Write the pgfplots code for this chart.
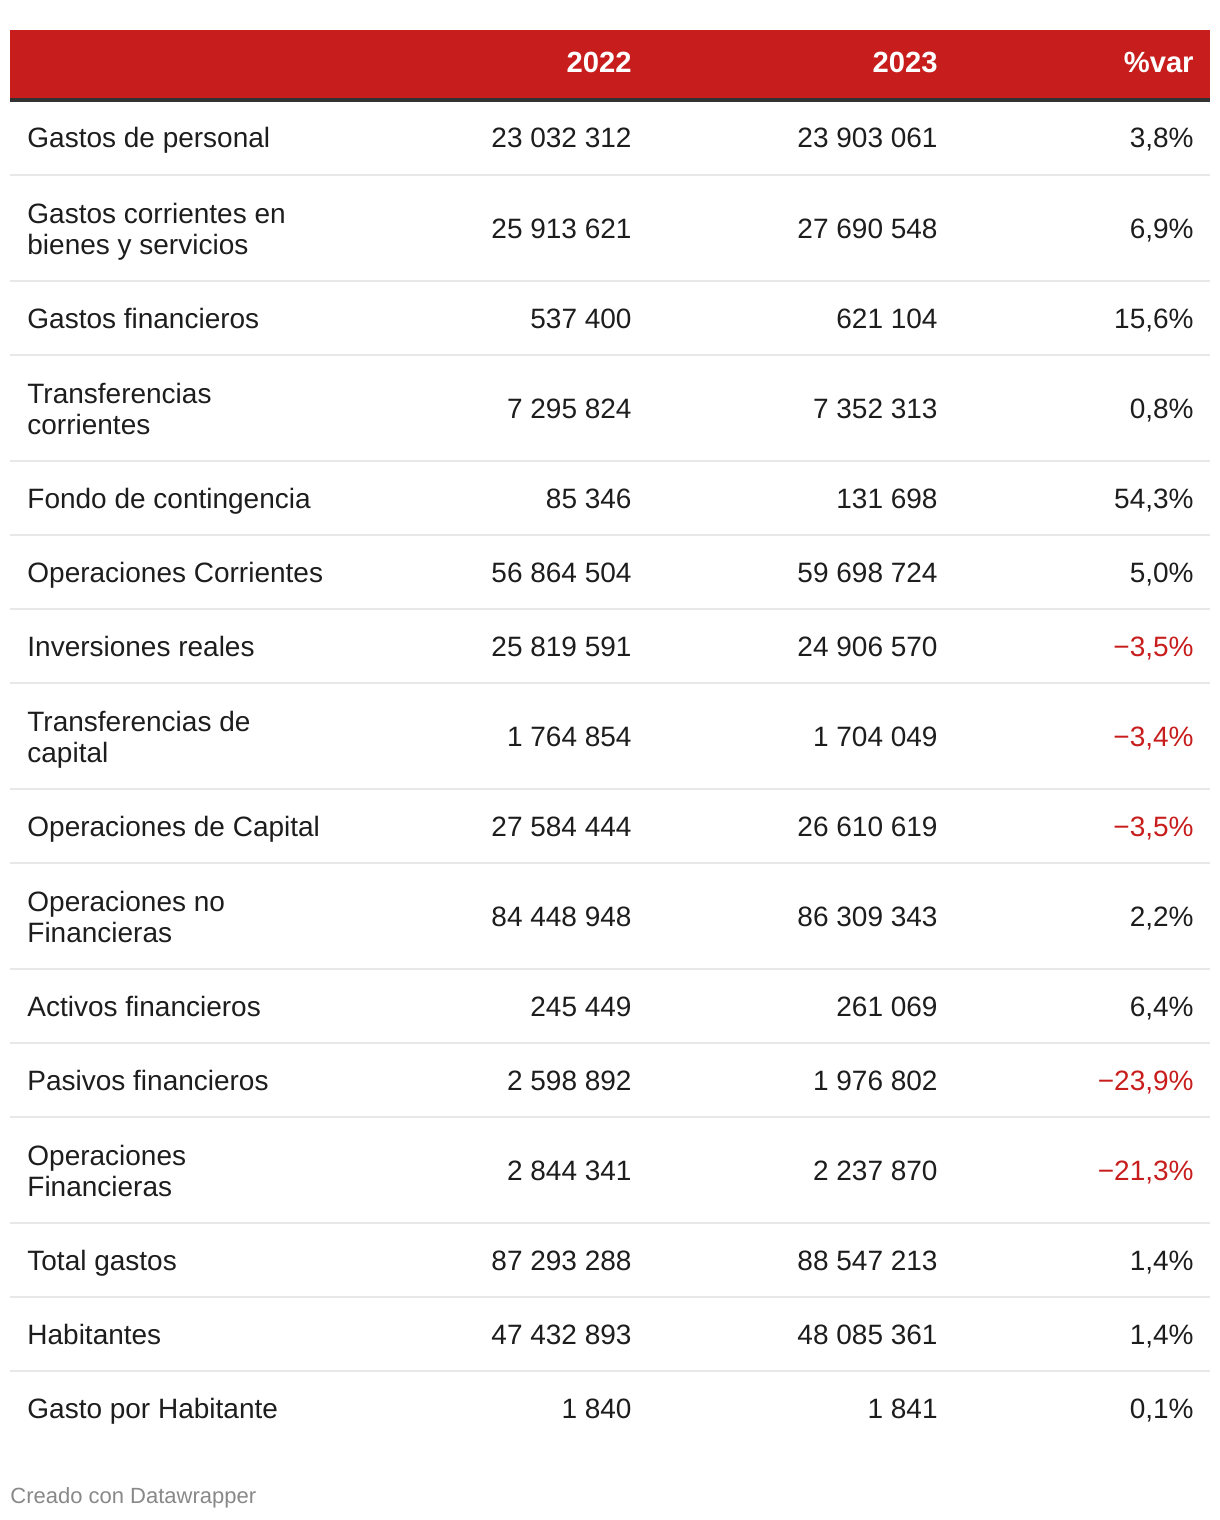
\documentclass[border=0pt]{standalone}
\usepackage{pgfplots}
\pgfplotsset{compat=1.18}
\usepackage{fontspec}
\setmainfont{Liberation Sans}
\definecolor{dwred}{HTML}{C71E1D}
\definecolor{dwtext}{HTML}{1D1D1D}
\definecolor{dwline}{HTML}{E8E8E8}
\definecolor{dwdark}{HTML}{333333}
\definecolor{dwgrey}{HTML}{888888}
\begin{document}
\begin{tikzpicture}
\begin{axis}[
  width=610pt, height=760pt, scale only axis,
  xmin=0, xmax=1220, ymin=0, ymax=1520, y dir=reverse,
  axis lines=none, clip=false,
  unbounded coords=jump,
  point meta=explicit symbolic,
  cellR/.style={draw=none, mark=none, nodes near coords,
    every node near coord/.append style={anchor=base east, inner sep=0pt, text=dwtext,
      font=\fontsize{14}{16}\selectfont}},
  cellL/.style={draw=none, mark=none, nodes near coords,
    every node near coord/.append style={anchor=base west, inner sep=0pt, text=dwtext,
      font=\fontsize{14}{16}\selectfont}},
]
% bounding box
\addplot[draw=none] coordinates {(0,0) (1220,1520)};
% header band
\addplot[fill=dwred, draw=none] coordinates {(10,30) (1210,30) (1210,98) (10,98)} -- cycle;
\addplot[dwdark, line width=2pt] coordinates {(10,100) (1210,100)};
% separators
\addplot[dwline, line width=1pt] coordinates {
 (10,175) (1210,175) (nan,nan)
 (10,281) (1210,281) (nan,nan)
 (10,355) (1210,355) (nan,nan)
 (10,461) (1210,461) (nan,nan)
 (10,535) (1210,535) (nan,nan)
 (10,609) (1210,609) (nan,nan)
 (10,683) (1210,683) (nan,nan)
 (10,789) (1210,789) (nan,nan)
 (10,863) (1210,863) (nan,nan)
 (10,969) (1210,969) (nan,nan)
 (10,1043) (1210,1043) (nan,nan)
 (10,1117) (1210,1117) (nan,nan)
 (10,1223) (1210,1223) (nan,nan)
 (10,1297) (1210,1297) (nan,nan)
 (10,1371) (1210,1371)
};
% header text
\addplot[draw=none, mark=none, nodes near coords,
  every node near coord/.append style={anchor=base east, inner sep=0pt, text=white,
    font=\fontsize{14.6}{16}\selectfont\bfseries}] coordinates {
 (632,73) [2022]
 (938,73) [2023]
 (1194,73) [\%var]
};
% labels
\addplot[cellL] coordinates {
 (27,148) [Gastos de personal]
 (27,223) [Gastos corrientes en]
 (27,254) [bienes y servicios]
 (27,328) [Gastos financieros]
 (27,403) [Transferencias]
 (27,434) [corrientes]
 (27,508) [Fondo de contingencia]
 (27,582) [Operaciones Corrientes]
 (27,656) [Inversiones reales]
 (27,731) [Transferencias de]
 (27,762) [capital]
 (27,836) [Operaciones de Capital]
 (27,911) [Operaciones no]
 (27,942) [Financieras]
 (27,1016) [Activos financieros]
 (27,1090) [Pasivos financieros]
 (27,1165) [Operaciones]
 (27,1196) [Financieras]
 (27,1270) [Total gastos]
 (27,1344) [Habitantes]
 (27,1418) [Gasto por Habitante]
};
% 2022
\addplot[cellR] coordinates {
 (632,148) [23 032 312]
 (632,238) [25 913 621]
 (632,328) [537 400]
 (632,418) [7 295 824]
 (632,508) [85 346]
 (632,582) [56 864 504]
 (632,656) [25 819 591]
 (632,746) [1 764 854]
 (632,836) [27 584 444]
 (632,926) [84 448 948]
 (632,1016) [245 449]
 (632,1090) [2 598 892]
 (632,1180) [2 844 341]
 (632,1270) [87 293 288]
 (632,1344) [47 432 893]
 (632,1418) [1 840]
};
% 2023
\addplot[cellR] coordinates {
 (938,148) [23 903 061]
 (938,238) [27 690 548]
 (938,328) [621 104]
 (938,418) [7 352 313]
 (938,508) [131 698]
 (938,582) [59 698 724]
 (938,656) [24 906 570]
 (938,746) [1 704 049]
 (938,836) [26 610 619]
 (938,926) [86 309 343]
 (938,1016) [261 069]
 (938,1090) [1 976 802]
 (938,1180) [2 237 870]
 (938,1270) [88 547 213]
 (938,1344) [48 085 361]
 (938,1418) [1 841]
};
% %var
\addplot[cellR] coordinates {
 (1194,148) [3,8\%]
 (1194,238) [6,9\%]
 (1194,328) [15,6\%]
 (1194,418) [0,8\%]
 (1194,508) [54,3\%]
 (1194,582) [5,0\%]
 (1194,656) [\textcolor{dwred}{−3,5\%}]
 (1194,746) [\textcolor{dwred}{−3,4\%}]
 (1194,836) [\textcolor{dwred}{−3,5\%}]
 (1194,926) [2,2\%]
 (1194,1016) [6,4\%]
 (1194,1090) [\textcolor{dwred}{−23,9\%}]
 (1194,1180) [\textcolor{dwred}{−21,3\%}]
 (1194,1270) [1,4\%]
 (1194,1344) [1,4\%]
 (1194,1418) [0,1\%]
};
% footer
\addplot[draw=none, mark=none, nodes near coords,
  every node near coord/.append style={anchor=base west, inner sep=0pt, text=dwgrey,
    font=\fontsize{11}{12}\selectfont}] coordinates {
 (10,1503) [Creado con Datawrapper]
};
\end{axis}
\end{tikzpicture}
\end{document}
